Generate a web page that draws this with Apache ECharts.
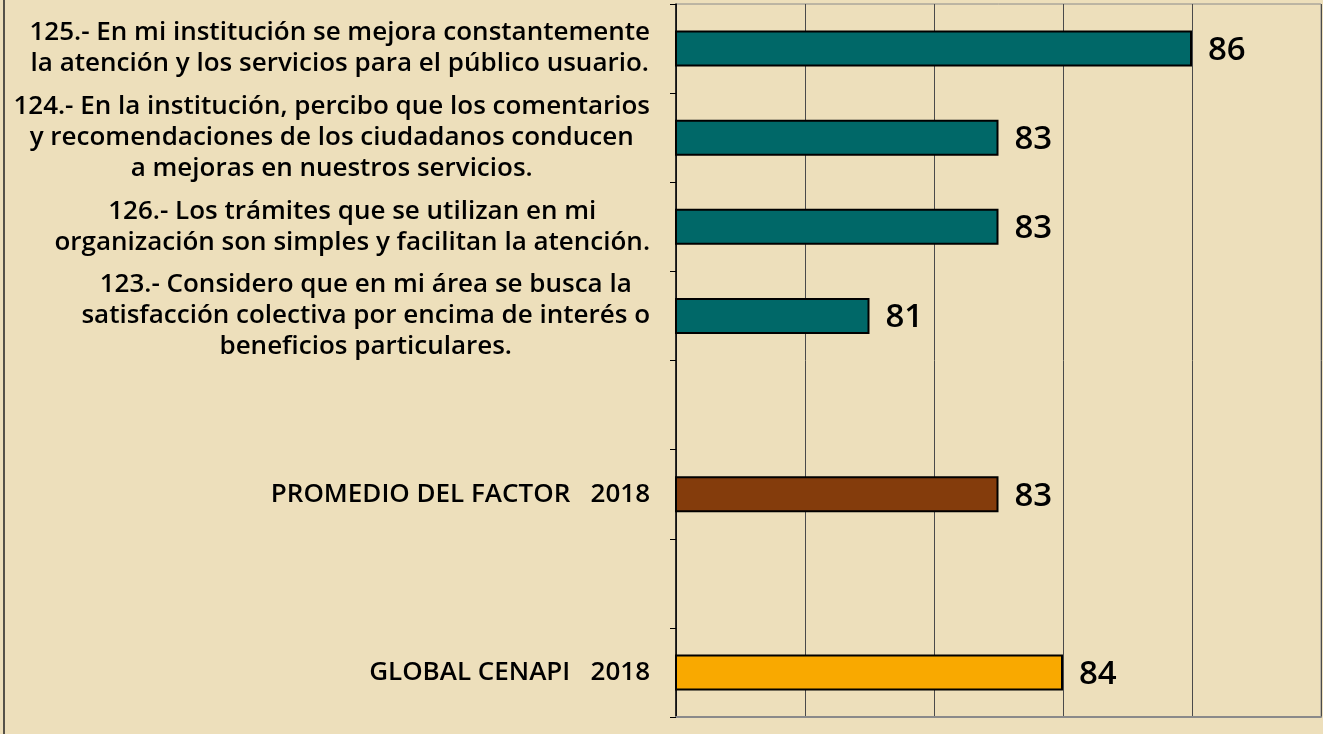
<!DOCTYPE html>
<html>
<head>
<meta charset="utf-8">
<script src="https://cdn.jsdelivr.net/npm/echarts@6/dist/echarts.min.js"></script>
<style>
  html, body { margin: 0; padding: 0; background: #eddfbb; }
  #main { width: 1323px; height: 734px; }
</style>
</head>
<body>
<div id="main"></div>
<script>
// categories, top to bottom ('' = empty slot)
var categories = [
    '125.- En mi institución se mejora constantemente\nla atención y los servicios para el público usuario.',
    '124.- En la institución, percibo que los comentarios\ny recomendaciones de los ciudadanos conducen\na mejoras en nuestros servicios.',
    '126.- Los trámites que se utilizan en mi\norganización son simples y facilitan la atención.',
    '123.- Considero que en mi área se busca la\nsatisfacción colectiva por encima de interés o\nbeneficios particulares.',
    '',
    'PROMEDIO DEL FACTOR   2018',
    '',
    'GLOBAL CENAPI   2018'
];
var values = [86, 83, 83, 81, null, 83, null, 84];

var axisMin = 78, axisMax = 88, axisStep = 2;

var barColors = ['#006868', '#006868', '#006868', '#006868', '#006868', '#843c0c', '#843c0c', '#f9a900'];

var myChart = echarts.init(document.getElementById('main'));

var font = '"Open Sans", Lato, sans-serif';

option = {
    backgroundColor: '#eddfbb',
    animation: false,
    grid: {
        left: 676,
        right: 2,
        top: 4,
        bottom: 17,
        show: true,
        borderColor: '#8a8a8a',
        borderWidth: 1
    },
    xAxis: {
        type: 'value',
        min: axisMin,
        max: axisMax,
        interval: axisStep,
        axisLabel: { show: false },
        axisTick: { show: false },
        axisLine: { show: true, lineStyle: { color: '#8a8a8a', width: 2 } },
        splitLine: { show: true, lineStyle: { color: '#4a4a4a', width: 1 } }
    },
    yAxis: {
        type: 'category',
        inverse: true,
        data: categories,
        axisLine: { show: true, lineStyle: { color: '#000', width: 1.5 } },
        axisTick: { show: true, length: 6, lineStyle: { color: '#000' } },
        axisLabel: {
            margin: 26,
            align: 'right',
            formatter: function (v) {
                if (!v) return '';
                return v.split('\n').map(function (l) { return '{c|' + l + '}'; }).join('\n');
            },
            rich: {
                c: {
                    align: 'center',
                    fontFamily: font,
                    fontWeight: 600,
                    fontSize: 26,
                    lineHeight: 31,
                    color: '#000'
                }
            }
        }
    },
    series: [
        {
            type: 'bar',
            data: values,
            barWidth: 36,
            itemStyle: {
                color: function (p) { return barColors[p.dataIndex]; },
                borderColor: '#000',
                borderWidth: 2
            },
            label: {
                show: true,
                position: 'right',
                distance: 16,
                offset: [0, 2],
                fontFamily: font,
                fontWeight: 600,
                fontSize: 33,
                color: '#000'
            }
        }
    ],
    graphic: [
        {
            type: 'line',
            shape: { x1: 4, y1: 0, x2: 4, y2: 734 },
            style: { stroke: '#222', lineWidth: 1.5 }
        }
    ]
};

myChart.setOption(option);
</script>
</body>
</html>
